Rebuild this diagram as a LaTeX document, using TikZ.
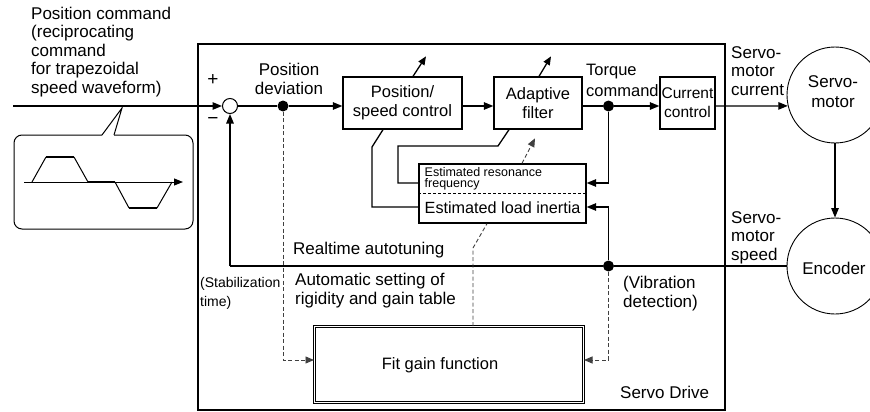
\documentclass[tikz,border=0pt]{standalone}
\usepackage{fontspec}
\setmainfont{Liberation Sans}
\usetikzlibrary{arrows.meta,calc}
\begin{document}
\begin{tikzpicture}[x=1pt,y=-1pt,
  ln/.style={line width=1.3pt},
  arr/.style={ln,-{Triangle[length=9.5pt,width=7.5pt]}},
  tune/.style={line width=1.3pt,-{Triangle[length=8.5pt,width=7pt]}},
  blk/.style={draw,line width=1.3pt,inner sep=0pt,align=center,font=\fontsize{16.5}{19}\selectfont},
  dot/.style={circle,fill,inner sep=0pt,minimum size=11pt},
  lbl/.style={inner sep=0pt,align=left,font=\fontsize{17}{18.6}\selectfont},
  dsh/.style={line width=0.9pt,dash pattern=on 4pt off 2.5pt,black!75},
  dsharr/.style={dsh,-{Triangle[length=8.5pt,width=7pt]}},
  thick wave/.style={line width=2.6pt},
  thin wave/.style={line width=1pt}]
\useasboundingbox (0,0) rectangle (870,412);

% Servo drive frame
\node[draw,line width=1.3pt,minimum width=527pt,minimum height=366pt,inner sep=0pt] (drive) at (461.5,227) {};

% blocks
\node[blk,minimum width=119pt,minimum height=52pt] (ps) at (402.5,103) {Position/\\speed control};
\node[blk,minimum width=88pt,minimum height=52pt] (af) at (538,103) {Adaptive\\filter};
\node[blk,minimum width=55pt,minimum height=52pt,font=\fontsize{15.5}{19}\selectfont] (cc) at (687.5,103) {Current\\control};
\node[draw,line width=1.3pt,minimum width=167pt,minimum height=59pt,inner sep=0pt] (est) at (502.5,193.5) {};
\draw[line width=0.9pt,dash pattern=on 3pt off 2pt] (est.west) -- (est.east);
\node[lbl,anchor=north west,font=\fontsize{12.5}{11}\selectfont] (estres) at (424.5,167) {Estimated resonance\\frequency};
\node[lbl,anchor=west,font=\fontsize{16.2}{19}\selectfont] (estin) at (424.5,208) {Estimated load inertia};
\node[draw,double,double distance=1.6pt,line width=1pt,minimum width=269pt,minimum height=76pt,inner sep=0pt] (fit) at (449,364.5) {};
\node[lbl,font=\fontsize{16.5}{19}\selectfont] (fittxt) at (440,365) {Fit gain function};

% circles
\node[circle,draw,line width=1pt,minimum size=15pt,inner sep=0pt] (sum) at (230,106) {};
\node[circle,draw,line width=0.9pt,minimum size=96pt,inner sep=0pt] (motor) at (835,95) {};
\node[lbl,align=center,font=\fontsize{17}{20}\selectfont] (motortxt) at (833,92) {Servo-\\motor};
\node[circle,draw,line width=0.9pt,minimum size=96pt,inner sep=0pt] (enc) at (835,266) {};
\node[lbl] (enctxt) at (834,268) {Encoder};

% dots
\node[dot] (devdot) at (283,106) {};
\node[dot] (tqdot) at (608.5,106) {};
\node[dot] (vibdot) at (608.5,266) {};
\coordinate (in) at (13,106);
\coordinate (fb) at (230,266);

% main signal path
\draw[arr] (in) -- (sum.west);
\draw[ln] (sum.east) -- (devdot);
\draw[arr] (devdot) -- (devdot -| ps.west);
\draw[arr] (ps.east |- devdot) -- (af.west |- devdot);
\draw[ln] (af.east |- tqdot) -- (tqdot);
\draw[arr] (tqdot) -- (tqdot -| cc.west);
\draw[arr] (cc.east |- tqdot) -- (motor.193);
\draw[arr] (motor.south) -- (enc.north);
\draw[ln] (enc.west) -- (vibdot) -- (fb);
\draw[arr] (fb) -- (sum.south);

% estimation connections
\draw[arr] (tqdot) |- ($(est.east)+(0,-10.5)$);
\draw[arr] (vibdot) |- ($(est.east)+(0,13.5)$);
\draw[ln] ($(est.west)+(0,-10.5)$) -- (398,183) -- (398,146) -- (498,146) -- ($(af.south)+(-29,0)$);
\draw[ln] ($(est.west)+(0,13.5)$) -- (372,207) -- (372,147) -- ($(ps.south)+(-19.5,0)$);

% tuning arrows
\draw[tune] ($(ps.north)+(10.5,0)$) -- ++(13,-20);
\draw[tune] ($(af.north)+(1,0)$) -- ++(12,-20);
\draw[dsharr] ($(est.north)+(19.5,0)$) -- ++(13,-25);

% dashed paths to fit gain
\draw[dsharr] (devdot) |- ($(fit.west)+(0,-4.5)$);
\draw[dsharr] (vibdot) |- ($(fit.east)+(0,-4.5)$);
\draw[dsh] ($(fit.north)+(24,0)$) -- ++(0,-78) -- ($(est.south)+(-15.5,0)$);

% speech bubble with waveform
\draw[line width=1pt,rounded corners=8pt] (114,135) -- (193,135) -- (193,229) -- (14,229) -- (14,135) -- (102,135);
\draw[line width=1pt,line join=miter] (102,135) -- (122,108) -- (114,135);
\coordinate (ax0) at (24,182);
\coordinate (ax1) at (183,182);
\draw[thin wave,-{Triangle[length=9pt,width=7pt]}] (ax0) -- (ax1);
\draw[thin wave] (32,182) -- (46,157);
\draw[thick wave] (46,157) -- (74,157);
\draw[thin wave] (74,157) -- (88,182);
\draw[thick wave] (88,182) -- (115,182);
\draw[thin wave] (115,182) -- (129,208);
\draw[thick wave] (129,208) -- (157,208);
\draw[thin wave] (157,208) -- (172,182);

% labels
\node[lbl,anchor=north west] (poscmd) at (31,6.5) {Position command\\(reciprocating\\command\\for trapezoidal\\speed waveform)};
\node[lbl,font=\fontsize{19}{20}\selectfont] (plus) at (213,80) {+};
\node[lbl,font=\fontsize{19}{20}\selectfont] (minus) at (213,121) {−};
\node[lbl,anchor=north,align=center] (devtxt) at (289,63) {Position\\deviation};
\node[lbl,anchor=north west,font=\fontsize{16.5}{21}\selectfont] (tqtxt) at (586,64) {Torque\\command};
\node[lbl,anchor=north west] (curtxt) at (731,46) {Servo-\\motor\\current};
\node[lbl,anchor=north west] (spdtxt) at (731,211) {Servo-\\motor\\speed};
\node[lbl,anchor=west] (rttxt) at (293,250) {Realtime autotuning};
\node[lbl,anchor=north west] (autotxt) at (295,273) {Automatic setting of\\rigidity and gain table};
\node[lbl,anchor=north west,font=\fontsize{14}{19}\selectfont] (stabtxt) at (200,277) {(Stabilization\\time)};
\node[lbl,anchor=north west] (vibtxt) at (623,276) {(Vibration\\detection)};
\node[lbl,anchor=west] (sdtxt) at (620,392) {Servo Drive};
\end{tikzpicture}
\end{document}
